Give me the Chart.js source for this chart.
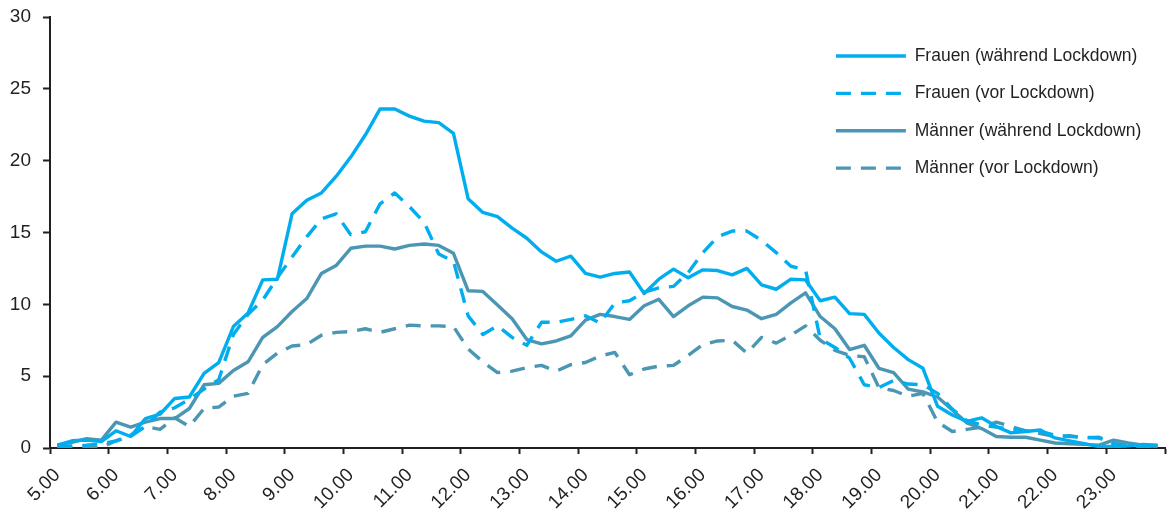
<!DOCTYPE html>
<html lang="de">
<head>
    <meta charset="UTF-8">
    <meta name="viewport" content="width=device-width, initial-scale=1.0">
    <title>Tagesverlauf vor und während Lockdown</title>
    <style>
        html, body {
            margin: 0;
            padding: 0;
            background: #fff;
        }
        .chart-container {
            position: relative;
            width: 1169px;
            height: 509px;
        }
    </style>
</head>
<body>
<div class="chart-container">
    <canvas id="lockdownChart"></canvas>
</div>

<script src="https://cdn.jsdelivr.net/npm/chart.js"></script>
<script>
// Time axis: one category every 15 minutes, labelled on the full hour
const hours = [5, 6, 7, 8, 9, 10, 11, 12, 13, 14, 15, 16, 17, 18, 19, 20, 21, 22, 23];
const quarters = ['00', '15', '30', '45'];
const yTickValues = [0, 5, 10, 15, 20, 25, 30];

const frauenWaehrend = [
    0.2, 0.5, 0.55, 0.45, 1.2, 0.8, 2.05, 2.35, 3.45, 3.55,
    5.2, 5.95, 8.45, 9.4, 11.7, 11.75, 16.3, 17.25, 17.75, 18.9,
    20.25, 21.8, 23.6, 23.6, 23.1, 22.75, 22.65, 21.9, 17.35, 16.4,
    16.1, 15.3, 14.6, 13.65, 13.0, 13.35, 12.15, 11.9, 12.15, 12.25,
    10.75, 11.75, 12.45, 11.85, 12.4, 12.35, 12.05, 12.5, 11.35, 11.05,
    11.75, 11.7, 10.25, 10.5, 9.35, 9.3, 8.0, 7.0, 6.15, 5.55,
    2.9, 2.3, 1.85, 2.1, 1.5, 1.05, 1.15, 1.25, 0.7, 0.5,
    0.3, 0.1, 0.1, 0.15, 0.25, 0.2
];
const frauenVor = [
    0.1, 0.15, 0.2, 0.3, 0.5, 0.8, 1.5, 2.5, 2.8, 3.4,
    4.1, 4.75, 7.9, 9.3, 10.3, 11.85, 13.3, 14.7, 15.95, 16.3,
    14.85, 15.05, 17.0, 17.75, 16.8, 15.7, 13.5, 13.0, 9.2, 7.9,
    8.5, 7.7, 7.15, 8.75, 8.75, 8.95, 9.2, 8.7, 10.1, 10.25,
    10.85, 11.15, 11.25, 12.2, 13.6, 14.7, 15.1, 15.1, 14.45, 13.6,
    12.65, 12.4, 7.6, 7.0, 6.25, 4.4, 4.2, 4.7, 4.45, 4.4,
    3.8, 2.7, 1.9, 1.6, 1.45, 1.3, 1.2, 1.15, 0.9, 0.8,
    0.75, 0.7, 0.3, 0.1, 0.05, 0.05
];
const maennerWaehrend = [
    0.2, 0.4, 0.65, 0.55, 1.8, 1.45, 1.8, 2.05, 2.05, 2.75,
    4.4, 4.5, 5.4, 6.0, 7.7, 8.45, 9.5, 10.4, 12.15, 12.7,
    13.9, 14.05, 14.05, 13.85, 14.1, 14.2, 14.1, 13.55, 10.95, 10.9,
    9.95, 9.0, 7.55, 7.25, 7.45, 7.8, 8.9, 9.3, 9.15, 8.95,
    9.9, 10.35, 9.15, 9.9, 10.5, 10.45, 9.85, 9.6, 9.0, 9.3,
    10.1, 10.8, 9.15, 8.3, 6.85, 7.15, 5.55, 5.25, 4.1, 3.9,
    3.55, 2.65, 1.75, 1.35, 0.8, 0.75, 0.75, 0.55, 0.35, 0.3,
    0.25, 0.2, 0.55, 0.35, 0.2, 0.1
];
const maennerVor = [
    0.1, 0.05, 0.05, 0.05, 0.5, 0.9, 1.5, 1.3, 2.1, 1.5,
    2.75, 2.85, 3.6, 3.8, 5.8, 6.6, 7.1, 7.2, 7.85, 8.05,
    8.1, 8.3, 8.05, 8.3, 8.55, 8.5, 8.5, 8.45, 6.9, 6.0,
    5.25, 5.35, 5.6, 5.75, 5.35, 5.8, 5.95, 6.4, 6.65, 5.1,
    5.5, 5.7, 5.75, 6.45, 7.2, 7.45, 7.5, 6.6, 7.7, 7.3,
    7.85, 8.5, 7.5, 6.8, 6.45, 6.35, 4.2, 4.0, 3.6, 3.8,
    1.8, 1.15, 1.3, 1.45, 1.8, 1.5, 1.2, 1.0, 0.8, 0.85,
    0.7, 0.75, 0.3, 0.2, 0.1, 0.05
];

const timeLabels = [];
hours.forEach(h => quarters.forEach(q => timeLabels.push(h + '.' + q)));

const blue = '#00aeef';
const teal = '#4b97b3';
const axisColor = '#231f20';
const textColor = '#231f20';
const dash = [15, 10];
const lineWidth = 3.4;

Chart.defaults.font.family = "'Liberation Sans', Arial, sans-serif";
Chart.defaults.color = textColor;

// put the vertical legend in the upper right corner of the plot
const legendPlacer = {
    id: 'legendPlacer',
    afterLayout(chart) {
        const area = chart.chartArea;
        chart.legend.left = area.right - 349;
        chart.legend.top = area.top + 10.3;
    }
};

function lineSet(label, data, color, dashed) {
    return {
        label: label,
        data: data,
        borderColor: color,
        backgroundColor: color,
        borderWidth: lineWidth,
        borderDash: dashed ? dash : [],
        borderJoinStyle: 'round',
        pointRadius: 0,
        tension: 0,
        fill: false
    };
}

new Chart(document.getElementById('lockdownChart'), {
    type: 'line',
    data: {
        labels: timeLabels,
        datasets: [
            lineSet('Frauen (während Lockdown)', frauenWaehrend, blue, false),
            lineSet('Frauen (vor Lockdown)', frauenVor, blue, true),
            lineSet('Männer (während Lockdown)', maennerWaehrend, teal, false),
            lineSet('Männer (vor Lockdown)', maennerVor, teal, true)
        ]
    },
    options: {
        responsive: true,
        maintainAspectRatio: false,
        animation: false,
        layout: { padding: { top: 17, right: 4, left: 0, bottom: 0 } },
        plugins: {
            legend: {
                position: 'chartArea',
                align: 'start',
                labels: {
                    usePointStyle: true,
                    pointStyle: 'line',
                    pointStyleWidth: 70,
                    padding: 19.9,
                    color: textColor,
                    font: { size: 17.5 },
                    // point style legend ignores the dataset dash, so copy it over
                    generateLabels: chart => Chart.defaults.plugins.legend.labels.generateLabels(chart).map(item => {
                        const ds = chart.data.datasets[item.datasetIndex];
                        item.lineDash = ds.borderDash;
                        item.lineWidth = ds.borderWidth;
                        item.strokeStyle = ds.borderColor;
                        return item;
                    })
                }
            },
            tooltip: { enabled: false }
        },
        scales: {
            x: {
                offset: true,
                grid: {
                    offset: true,
                    drawOnChartArea: false,
                    tickLength: 6,
                    tickWidth: 2,
                    tickColor: ctx => (ctx.index === undefined || ctx.index % 4 === 0) ? axisColor : 'rgba(0,0,0,0)'
                },
                border: { color: axisColor, width: 2 },
                ticks: {
                    autoSkip: false,
                    minRotation: 45,
                    maxRotation: 45,
                    padding: 10,
                    color: textColor,
                    font: { size: 19 },
                    callback: function (value, index) {
                        return index % 4 === 0 ? this.getLabelForValue(value) : '';
                    }
                },
                afterFit: scale => {
                    scale.height = 61;
                    scale.paddingLeft = 0;
                    scale.paddingRight = 0;
                }
            },
            y: {
                min: 0,
                max: 30,
                grid: {
                    drawOnChartArea: false,
                    tickLength: 7,
                    tickWidth: 2,
                    tickColor: axisColor
                },
                border: { color: axisColor, width: 2 },
                ticks: {
                    padding: 12,
                    color: textColor,
                    font: { size: 19 }
                },
                afterBuildTicks: scale => {
                    scale.ticks = yTickValues.map(v => ({ value: v }));
                },
                afterFit: scale => {
                    scale.width = 50;
                    scale.paddingTop = 0;
                    scale.paddingBottom = 0;
                }
            }
        }
    },
    plugins: [legendPlacer]
});
</script>
</body>
</html>
